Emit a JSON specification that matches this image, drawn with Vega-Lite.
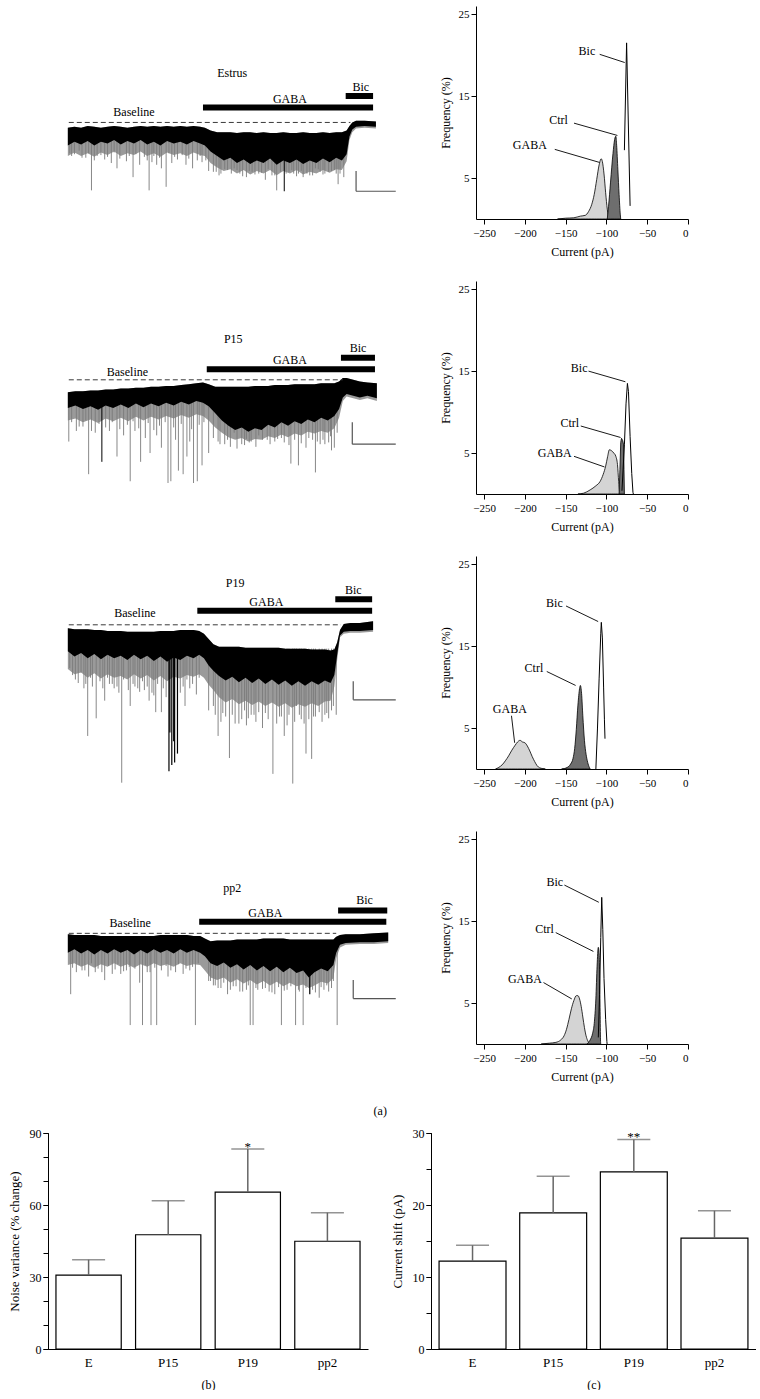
{
"$schema": "https://vega.github.io/schema/vega-lite/v6.json",
"background": "white",
"padding": {"left": 8, "top": 6, "right": 0, "bottom": 0},
"config": {
 "view": {"stroke": null},
 "font": "Liberation Serif",
 "axis": {"labelFont": "Liberation Serif", "titleFont": "Liberation Serif", "labelFontSize": 11, "titleFontSize": 12, "titleFontWeight": "normal", "labelColor": "black", "titleColor": "black", "domainColor": "black", "tickColor": "black", "grid": false, "tickSize": 5, "labelOverlap": false},
 "text": {"font": "Liberation Serif", "fontSize": 12, "color": "black"}
},
"datasets": {
 "band1": [{"t":71,"hi":118,"lo":138,"lo2":150},{"t":78,"hi":117,"lo":134,"lo2":146},{"t":85,"hi":118,"lo":137,"lo2":150},{"t":92,"hi":116,"lo":133,"lo2":147},{"t":99,"hi":117,"lo":138,"lo2":151},{"t":106,"hi":118,"lo":134,"lo2":146},{"t":113,"hi":117,"lo":136,"lo2":149},{"t":120,"hi":116,"lo":132,"lo2":145},{"t":127,"hi":117,"lo":137,"lo2":150},{"t":134,"hi":118,"lo":133,"lo2":147},{"t":141,"hi":117,"lo":136,"lo2":149},{"t":148,"hi":116,"lo":132,"lo2":145},{"t":155,"hi":117,"lo":137,"lo2":150},{"t":162,"hi":116,"lo":134,"lo2":147},{"t":169,"hi":117,"lo":138,"lo2":151},{"t":176,"hi":116,"lo":133,"lo2":146},{"t":183,"hi":117,"lo":136,"lo2":149},{"t":190,"hi":116,"lo":134,"lo2":147},{"t":197,"hi":117,"lo":137,"lo2":150},{"t":204,"hi":116,"lo":133,"lo2":146},{"t":211,"hi":117,"lo":136,"lo2":149},{"t":216,"hi":118,"lo":138,"lo2":150},{"t":222,"hi":121,"lo":145,"lo2":158},{"t":229,"hi":123,"lo":150,"lo2":163},{"t":236,"hi":123,"lo":155,"lo2":167},{"t":243,"hi":123,"lo":152,"lo2":165},{"t":250,"hi":124,"lo":158,"lo2":170},{"t":257,"hi":123,"lo":154,"lo2":166},{"t":264,"hi":123,"lo":159,"lo2":171},{"t":271,"hi":124,"lo":155,"lo2":167},{"t":278,"hi":123,"lo":158,"lo2":170},{"t":285,"hi":124,"lo":153,"lo2":166},{"t":292,"hi":124,"lo":160,"lo2":172},{"t":299,"hi":123,"lo":155,"lo2":167},{"t":306,"hi":124,"lo":158,"lo2":170},{"t":313,"hi":124,"lo":154,"lo2":166},{"t":320,"hi":123,"lo":159,"lo2":171},{"t":327,"hi":124,"lo":155,"lo2":168},{"t":334,"hi":124,"lo":158,"lo2":170},{"t":341,"hi":123,"lo":153,"lo2":166},{"t":348,"hi":124,"lo":157,"lo2":169},{"t":355,"hi":123,"lo":152,"lo2":165},{"t":361,"hi":123,"lo":155,"lo2":166},{"t":366,"hi":121,"lo":148,"lo2":156},{"t":369,"hi":116,"lo":128,"lo2":132},{"t":372,"hi":112,"lo":120,"lo2":123},{"t":376,"hi":110,"lo":117,"lo2":119},{"t":385,"hi":110,"lo":116,"lo2":118},{"t":397,"hi":111,"lo":117,"lo2":119}],
 "spk1": [{"t":96,"d":189},{"t":157,"d":189},{"t":175,"d":185},{"t":292,"d":189},{"t":357,"d":182},{"t":73,"d":147},{"t":83,"d":144},{"t":110,"d":154},{"t":123,"d":164},{"t":140,"d":174},{"t":147,"d":160},{"t":160,"d":157},{"t":170,"d":164},{"t":187,"d":154},{"t":203,"d":164},{"t":213,"d":157},{"t":220,"d":167},{"t":233,"d":170},{"t":247,"d":164},{"t":260,"d":174},{"t":273,"d":170},{"t":280,"d":177},{"t":310,"d":170},{"t":320,"d":174},{"t":333,"d":164},{"t":343,"d":170},{"t":350,"d":167},{"t":363,"d":174},{"t":90,"d":152},{"t":102,"d":150},{"t":117,"d":158},{"t":133,"d":156},{"t":152,"d":151},{"t":165,"d":160},{"t":181,"d":158},{"t":196,"d":160},{"t":208,"d":155},{"t":228,"d":168},{"t":240,"d":166},{"t":253,"d":170},{"t":266,"d":168},{"t":287,"d":172},{"t":305,"d":168},{"t":315,"d":170},{"t":327,"d":172},{"t":338,"d":168},{"t":355,"d":170},
  {"t":75,"d":150},{"t":78,"d":148},{"t":86,"d":152},{"t":93,"d":147},{"t":99,"d":155},{"t":106,"d":149},{"t":113,"d":151},{"t":120,"d":146},{"t":126,"d":153},{"t":136,"d":150},{"t":143,"d":148},{"t":155,"d":155},{"t":162,"d":150},{"t":168,"d":152},{"t":178,"d":147},{"t":184,"d":151},{"t":192,"d":149},{"t":199,"d":153},{"t":211,"d":150},{"t":217,"d":155},{"t":225,"d":168},{"t":231,"d":172},{"t":237,"d":165},{"t":244,"d":170},{"t":250,"d":166},{"t":256,"d":173},{"t":263,"d":167},{"t":269,"d":171},{"t":276,"d":169},{"t":283,"d":165},{"t":290,"d":172},{"t":296,"d":168},{"t":302,"d":170},{"t":308,"d":166},{"t":313,"d":173},{"t":318,"d":167},{"t":324,"d":170},{"t":330,"d":172},{"t":336,"d":165},{"t":341,"d":171},{"t":347,"d":168},{"t":353,"d":166},{"t":359,"d":170}],
 "spk1b": [{"t":300,"d":190}],
 "band2": [{"t":71,"hi":106,"lo":124,"lo2":138},{"t":79,"hi":105,"lo":121,"lo2":136},{"t":87,"hi":105,"lo":125,"lo2":140},{"t":95,"hi":104,"lo":122,"lo2":137},{"t":103,"hi":104,"lo":126,"lo2":141},{"t":111,"hi":103,"lo":121,"lo2":136},{"t":119,"hi":103,"lo":124,"lo2":139},{"t":127,"hi":102,"lo":120,"lo2":135},{"t":135,"hi":102,"lo":124,"lo2":139},{"t":143,"hi":101,"lo":119,"lo2":134},{"t":151,"hi":101,"lo":123,"lo2":138},{"t":159,"hi":100,"lo":119,"lo2":134},{"t":167,"hi":100,"lo":122,"lo2":137},{"t":175,"hi":99,"lo":118,"lo2":133},{"t":183,"hi":99,"lo":121,"lo2":136},{"t":191,"hi":98,"lo":117,"lo2":132},{"t":199,"hi":97,"lo":120,"lo2":135},{"t":207,"hi":96,"lo":116,"lo2":131},{"t":214,"hi":95,"lo":118,"lo2":133},{"t":220,"hi":97,"lo":122,"lo2":138},{"t":227,"hi":100,"lo":130,"lo2":146},{"t":234,"hi":100,"lo":138,"lo2":152},{"t":241,"hi":100,"lo":144,"lo2":157},{"t":248,"hi":100,"lo":149,"lo2":160},{"t":255,"hi":100,"lo":146,"lo2":158},{"t":262,"hi":100,"lo":151,"lo2":162},{"t":269,"hi":99,"lo":147,"lo2":159},{"t":276,"hi":99,"lo":149,"lo2":160},{"t":283,"hi":99,"lo":143,"lo2":156},{"t":290,"hi":98,"lo":146,"lo2":158},{"t":297,"hi":98,"lo":140,"lo2":154},{"t":304,"hi":98,"lo":144,"lo2":157},{"t":311,"hi":97,"lo":139,"lo2":153},{"t":318,"hi":97,"lo":142,"lo2":155},{"t":325,"hi":97,"lo":137,"lo2":151},{"t":332,"hi":97,"lo":140,"lo2":153},{"t":339,"hi":96,"lo":135,"lo2":150},{"t":346,"hi":96,"lo":138,"lo2":152},{"t":353,"hi":96,"lo":133,"lo2":147},{"t":358,"hi":94,"lo":125,"lo2":135},{"t":362,"hi":90,"lo":112,"lo2":116},{"t":366,"hi":90,"lo":108,"lo2":111},{"t":373,"hi":92,"lo":110,"lo2":113},{"t":380,"hi":94,"lo":112,"lo2":115},{"t":388,"hi":95,"lo":110,"lo2":113},{"t":398,"hi":96,"lo":113,"lo2":116}],
 "spk2": [{"t":93,"d":199},{"t":137,"d":207},{"t":158,"d":175},{"t":177,"d":209},{"t":180,"d":207},{"t":188,"d":195},{"t":193,"d":199},{"t":204,"d":209},{"t":208,"d":207},{"t":213,"d":189},{"t":220,"d":175},{"t":232,"d":165},{"t":307,"d":187},{"t":315,"d":189},{"t":333,"d":197},{"t":350,"d":172},{"t":72,"d":162},{"t":123,"d":179},{"t":148,"d":185},{"t":170,"d":169},{"t":197,"d":179},{"t":247,"d":152},{"t":260,"d":159},{"t":273,"d":155},{"t":293,"d":159},{"t":323,"d":169},{"t":343,"d":165},{"t":353,"d":169},{"t":80,"d":150},{"t":87,"d":145},{"t":100,"d":152},{"t":115,"d":150},{"t":130,"d":155},{"t":142,"d":150},{"t":153,"d":158},{"t":165,"d":155},{"t":185,"d":160},{"t":200,"d":162},{"t":240,"d":160},{"t":255,"d":165},{"t":265,"d":162},{"t":282,"d":160},{"t":300,"d":163},{"t":330,"d":160},{"t":338,"d":165},{"t":347,"d":163},
  {"t":75,"d":140},{"t":83,"d":145},{"t":90,"d":138},{"t":96,"d":150},{"t":104,"d":142},{"t":111,"d":146},{"t":118,"d":140},{"t":126,"d":148},{"t":134,"d":143},{"t":140,"d":139},{"t":146,"d":147},{"t":156,"d":141},{"t":162,"d":149},{"t":168,"d":144},{"t":174,"d":140},{"t":183,"d":146},{"t":191,"d":142},{"t":202,"d":148},{"t":210,"d":143},{"t":215,"d":140},{"t":225,"d":158},{"t":230,"d":162},{"t":237,"d":165},{"t":243,"d":168},{"t":250,"d":170},{"t":258,"d":166},{"t":263,"d":163},{"t":270,"d":168},{"t":277,"d":160},{"t":285,"d":165},{"t":290,"d":162},{"t":297,"d":158},{"t":305,"d":166},{"t":311,"d":160},{"t":318,"d":164},{"t":326,"d":158},{"t":335,"d":162},{"t":341,"d":160},{"t":349,"d":156},{"t":356,"d":152}],
 "spk2b": [{"t":107,"d":185}],
 "band3": [{"t":71,"hi":62,"lo":88,"lo2":108},{"t":78,"hi":63,"lo":94,"lo2":114},{"t":85,"hi":63,"lo":90,"lo2":112},{"t":92,"hi":63,"lo":96,"lo2":118},{"t":99,"hi":64,"lo":91,"lo2":113},{"t":106,"hi":64,"lo":97,"lo2":119},{"t":113,"hi":65,"lo":92,"lo2":114},{"t":120,"hi":65,"lo":96,"lo2":118},{"t":127,"hi":65,"lo":93,"lo2":116},{"t":134,"hi":66,"lo":98,"lo2":120},{"t":141,"hi":66,"lo":92,"lo2":114},{"t":148,"hi":66,"lo":97,"lo2":119},{"t":155,"hi":66,"lo":93,"lo2":115},{"t":162,"hi":66,"lo":99,"lo2":121},{"t":169,"hi":65,"lo":94,"lo2":116},{"t":176,"hi":65,"lo":100,"lo2":122},{"t":183,"hi":65,"lo":95,"lo2":117},{"t":190,"hi":64,"lo":98,"lo2":119},{"t":197,"hi":64,"lo":93,"lo2":115},{"t":204,"hi":64,"lo":96,"lo2":117},{"t":210,"hi":65,"lo":92,"lo2":114},{"t":215,"hi":68,"lo":96,"lo2":118},{"t":220,"hi":74,"lo":104,"lo2":126},{"t":225,"hi":80,"lo":110,"lo2":132},{"t":231,"hi":83,"lo":116,"lo2":140},{"t":238,"hi":83,"lo":121,"lo2":146},{"t":245,"hi":83,"lo":117,"lo2":142},{"t":252,"hi":83,"lo":123,"lo2":148},{"t":259,"hi":84,"lo":118,"lo2":144},{"t":266,"hi":84,"lo":124,"lo2":149},{"t":273,"hi":84,"lo":119,"lo2":145},{"t":280,"hi":84,"lo":125,"lo2":150},{"t":287,"hi":84,"lo":120,"lo2":146},{"t":294,"hi":84,"lo":126,"lo2":151},{"t":301,"hi":85,"lo":121,"lo2":147},{"t":308,"hi":85,"lo":127,"lo2":152},{"t":315,"hi":85,"lo":122,"lo2":148},{"t":322,"hi":85,"lo":127,"lo2":151},{"t":329,"hi":86,"lo":122,"lo2":147},{"t":336,"hi":86,"lo":126,"lo2":150},{"t":343,"hi":86,"lo":121,"lo2":145},{"t":349,"hi":87,"lo":124,"lo2":144},{"t":353,"hi":86,"lo":115,"lo2":128},{"t":356,"hi":78,"lo":92,"lo2":98},{"t":359,"hi":64,"lo":70,"lo2":72},{"t":363,"hi":57,"lo":66,"lo2":68},{"t":370,"hi":56,"lo":65,"lo2":67},{"t":380,"hi":56,"lo":65,"lo2":67},{"t":394,"hi":54,"lo":64,"lo2":66}],
 "spk3": [{"t":92,"d":184},{"t":101,"d":164},{"t":128,"d":237},{"t":164,"d":157},{"t":230,"d":184},{"t":242,"d":209},{"t":252,"d":170},{"t":262,"d":164},{"t":288,"d":227},{"t":300,"d":184},{"t":309,"d":238},{"t":323,"d":204},{"t":329,"d":210},{"t":347,"d":164},{"t":355,"d":160},{"t":73,"d":107},{"t":82,"d":124},{"t":110,"d":144},{"t":120,"d":130},{"t":137,"d":150},{"t":147,"d":134},{"t":157,"d":144},{"t":170,"d":157},{"t":195,"d":150},{"t":207,"d":137},{"t":273,"d":157},{"t":313,"d":150},{"t":337,"d":157},{"t":88,"d":130},{"t":97,"d":128},{"t":115,"d":125},{"t":125,"d":135},{"t":142,"d":128},{"t":152,"d":132},{"t":162,"d":138},{"t":175,"d":140},{"t":190,"d":135},{"t":200,"d":130},{"t":225,"d":150},{"t":235,"d":158},{"t":245,"d":160},{"t":258,"d":155},{"t":268,"d":160},{"t":280,"d":158},{"t":295,"d":162},{"t":305,"d":160},{"t":318,"d":165},{"t":333,"d":162},{"t":343,"d":160},{"t":350,"d":155},
  {"t":76,"d":115},{"t":79,"d":120},{"t":85,"d":112},{"t":90,"d":125},{"t":95,"d":118},{"t":105,"d":122},{"t":108,"d":130},{"t":113,"d":118},{"t":118,"d":125},{"t":123,"d":128},{"t":130,"d":120},{"t":135,"d":132},{"t":140,"d":125},{"t":145,"d":130},{"t":150,"d":122},{"t":155,"d":128},{"t":160,"d":135},{"t":166,"d":125},{"t":172,"d":130},{"t":193,"d":128},{"t":197,"d":120},{"t":203,"d":125},{"t":210,"d":118},{"t":220,"d":155},{"t":227,"d":160},{"t":233,"d":168},{"t":238,"d":162},{"t":248,"d":170},{"t":255,"d":165},{"t":260,"d":172},{"t":265,"d":160},{"t":270,"d":168},{"t":277,"d":175},{"t":283,"d":165},{"t":292,"d":170},{"t":297,"d":162},{"t":303,"d":172},{"t":311,"d":168},{"t":316,"d":160},{"t":321,"d":170},{"t":326,"d":165},{"t":331,"d":162},{"t":340,"d":168},{"t":345,"d":158},{"t":352,"d":150}],
 "spk3b": [{"t":178,"d":224},{"t":181,"d":217},{"t":184,"d":214},{"t":187,"d":204},{"t":179,"d":180},{"t":183,"d":190}],
 "band4": [{"t":71,"hi":97,"lo":118,"lo2":132},{"t":78,"hi":98,"lo":114,"lo2":130},{"t":85,"hi":98,"lo":119,"lo2":134},{"t":92,"hi":98,"lo":115,"lo2":131},{"t":99,"hi":98,"lo":120,"lo2":135},{"t":106,"hi":99,"lo":115,"lo2":131},{"t":113,"hi":99,"lo":119,"lo2":134},{"t":120,"hi":99,"lo":114,"lo2":130},{"t":127,"hi":99,"lo":118,"lo2":134},{"t":134,"hi":99,"lo":115,"lo2":131},{"t":141,"hi":99,"lo":120,"lo2":135},{"t":148,"hi":99,"lo":115,"lo2":131},{"t":155,"hi":99,"lo":119,"lo2":134},{"t":162,"hi":99,"lo":114,"lo2":130},{"t":169,"hi":98,"lo":118,"lo2":133},{"t":176,"hi":98,"lo":115,"lo2":131},{"t":183,"hi":98,"lo":119,"lo2":134},{"t":190,"hi":98,"lo":114,"lo2":130},{"t":197,"hi":98,"lo":118,"lo2":133},{"t":204,"hi":99,"lo":115,"lo2":131},{"t":211,"hi":99,"lo":118,"lo2":132},{"t":216,"hi":102,"lo":122,"lo2":138},{"t":222,"hi":105,"lo":130,"lo2":146},{"t":229,"hi":104,"lo":133,"lo2":149},{"t":236,"hi":104,"lo":129,"lo2":146},{"t":243,"hi":104,"lo":135,"lo2":152},{"t":250,"hi":103,"lo":131,"lo2":148},{"t":257,"hi":103,"lo":137,"lo2":153},{"t":264,"hi":103,"lo":132,"lo2":149},{"t":271,"hi":103,"lo":138,"lo2":154},{"t":278,"hi":102,"lo":133,"lo2":150},{"t":285,"hi":102,"lo":139,"lo2":155},{"t":292,"hi":102,"lo":134,"lo2":151},{"t":299,"hi":102,"lo":140,"lo2":156},{"t":306,"hi":103,"lo":135,"lo2":152},{"t":313,"hi":103,"lo":141,"lo2":156},{"t":320,"hi":103,"lo":138,"lo2":154},{"t":326,"hi":103,"lo":146,"lo2":158},{"t":332,"hi":103,"lo":140,"lo2":155},{"t":339,"hi":103,"lo":136,"lo2":151},{"t":346,"hi":103,"lo":139,"lo2":153},{"t":352,"hi":103,"lo":132,"lo2":147},{"t":355,"hi":100,"lo":118,"lo2":124},{"t":359,"hi":98,"lo":109,"lo2":112},{"t":365,"hi":97,"lo":107,"lo2":109},{"t":380,"hi":97,"lo":106,"lo2":108},{"t":395,"hi":96,"lo":106,"lo2":108},{"t":410,"hi":95,"lo":105,"lo2":107}],
 "spk4": [{"t":74,"d":165},{"t":137,"d":200},{"t":150,"d":200},{"t":159,"d":200},{"t":165,"d":200},{"t":206,"d":200},{"t":264,"d":200},{"t":267,"d":200},{"t":297,"d":200},{"t":312,"d":200},{"t":320,"d":200},{"t":356,"d":200},{"t":93,"d":145},{"t":110,"d":149},{"t":127,"d":142},{"t":147,"d":152},{"t":177,"d":145},{"t":193,"d":142},{"t":227,"d":155},{"t":240,"d":165},{"t":253,"d":162},{"t":277,"d":159},{"t":290,"d":165},{"t":337,"d":169},{"t":347,"d":162},{"t":80,"d":140},{"t":86,"d":138},{"t":100,"d":140},{"t":118,"d":142},{"t":133,"d":138},{"t":155,"d":140},{"t":170,"d":138},{"t":185,"d":140},{"t":200,"d":138},{"t":222,"d":150},{"t":233,"d":158},{"t":246,"d":156},{"t":260,"d":160},{"t":270,"d":158},{"t":284,"d":162},{"t":303,"d":160},{"t":316,"d":162},{"t":330,"d":160},{"t":342,"d":160},{"t":350,"d":158},
  {"t":76,"d":135},{"t":83,"d":132},{"t":89,"d":138},{"t":96,"d":130},{"t":103,"d":136},{"t":107,"d":140},{"t":114,"d":133},{"t":121,"d":137},{"t":124,"d":131},{"t":130,"d":139},{"t":136,"d":134},{"t":142,"d":136},{"t":153,"d":132},{"t":158,"d":140},{"t":163,"d":135},{"t":175,"d":133},{"t":180,"d":138},{"t":188,"d":131},{"t":196,"d":136},{"t":203,"d":134},{"t":209,"d":130},{"t":220,"d":150},{"t":225,"d":155},{"t":230,"d":158},{"t":236,"d":152},{"t":243,"d":160},{"t":249,"d":156},{"t":256,"d":162},{"t":262,"d":155},{"t":272,"d":160},{"t":280,"d":158},{"t":287,"d":163},{"t":294,"d":157},{"t":300,"d":161},{"t":307,"d":156},{"t":315,"d":160},{"t":323,"d":158},{"t":333,"d":163},{"t":339,"d":157},{"t":345,"d":155},{"t":352,"d":150}],
 "spk4b": [{"t":327,"d":165}],
 "h1g": [{"current":-160,"freq":0},{"current":-150,"freq":0.1},{"current":-140,"freq":0.15},{"current":-132,"freq":0.35},{"current":-126,"freq":0.45},{"current":-122,"freq":0.9},{"current":-118,"freq":1.8},{"current":-115,"freq":3.0},{"current":-112,"freq":4.8},{"current":-109,"freq":6.6},{"current":-106.5,"freq":7.35},{"current":-105,"freq":7.0},{"current":-103,"freq":5.5},{"current":-101,"freq":3.2},{"current":-99,"freq":1.2},{"current":-97,"freq":0}],
 "h1c": [{"current":-99,"freq":0},{"current":-97.5,"freq":1.5},{"current":-95,"freq":4.5},{"current":-92,"freq":8.0},{"current":-90,"freq":9.7},{"current":-88.5,"freq":10.1},{"current":-87.5,"freq":9.0},{"current":-86,"freq":6.0},{"current":-84.5,"freq":3.0},{"current":-83,"freq":0.5},{"current":-82.5,"freq":0}],
 "h1b": [{"current":-78,"freq":8.4},{"current":-75.3,"freq":21.5},{"current":-71,"freq":1.6}],
 "h1a": [{"label":"Bic","tc":-124,"tf":20.5,"c1":-108.3,"f1":20.1,"c2":-77.6,"f2":19.1},{"label":"Ctrl","tc":-158.7,"tf":12.1,"c1":-139.8,"f1":11.7,"c2":-86.6,"f2":10.2},{"label":"GABA","tc":-194,"tf":9.0,"c1":-163.4,"f1":8.5,"c2":-108.3,"f2":6.9}],
 "h2g": [{"current":-135,"freq":0},{"current":-128,"freq":0.1},{"current":-120,"freq":0.5},{"current":-113,"freq":1.0},{"current":-108,"freq":1.5},{"current":-104,"freq":2.4},{"current":-101,"freq":3.4},{"current":-98.5,"freq":4.6},{"current":-96.5,"freq":5.4},{"current":-94,"freq":5.3},{"current":-91,"freq":5.0},{"current":-88.5,"freq":4.6},{"current":-86.5,"freq":3.6},{"current":-85,"freq":1.5},{"current":-84,"freq":0.3},{"current":-83.5,"freq":0}],
 "h2c": [{"current":-84.5,"freq":0},{"current":-83.5,"freq":3},{"current":-82.5,"freq":6.3},{"current":-81.5,"freq":6.8},{"current":-80,"freq":6.5},{"current":-79,"freq":6.0},{"current":-78.5,"freq":3},{"current":-78,"freq":0}],
 "h2b": [{"current":-81,"freq":0.4},{"current":-78,"freq":6},{"current":-76,"freq":11},{"current":-74.3,"freq":13.5},{"current":-73,"freq":12.5},{"current":-71,"freq":7},{"current":-69,"freq":2.5},{"current":-67.5,"freq":0.2},{"current":-67,"freq":0}],
 "h2a": [{"label":"Bic","tc":-133.5,"tf":15.4,"c1":-122,"f1":15.0,"c2":-76.8,"f2":13.7},{"label":"Ctrl","tc":-144.9,"tf":8.7,"c1":-131.5,"f1":8.3,"c2":-82.7,"f2":6.9},{"label":"GABA","tc":-163.4,"tf":5.0,"c1":-139.8,"f1":4.6,"c2":-102.4,"f2":3.3}],
 "h3g": [{"current":-236,"freq":0},{"current":-232,"freq":0.2},{"current":-228,"freq":0.5},{"current":-224,"freq":1.0},{"current":-220,"freq":1.6},{"current":-216,"freq":2.3},{"current":-212,"freq":2.9},{"current":-209,"freq":3.3},{"current":-206,"freq":3.5},{"current":-203,"freq":3.3},{"current":-200,"freq":3.2},{"current":-197,"freq":2.8},{"current":-194,"freq":2.2},{"current":-191,"freq":1.5},{"current":-188,"freq":0.9},{"current":-185,"freq":0.4},{"current":-182,"freq":0.15},{"current":-178,"freq":0.05},{"current":-175,"freq":0}],
 "h3c": [{"current":-155,"freq":0},{"current":-148,"freq":0.2},{"current":-144,"freq":0.6},{"current":-141,"freq":1.3},{"current":-139,"freq":2.5},{"current":-137,"freq":4.8},{"current":-135,"freq":7.8},{"current":-133,"freq":9.8},{"current":-132,"freq":10.2},{"current":-130.5,"freq":9.2},{"current":-129,"freq":6.5},{"current":-127,"freq":3.5},{"current":-125,"freq":1.8},{"current":-123,"freq":0.8},{"current":-121,"freq":0.2},{"current":-120,"freq":0}],
 "h3b": [{"current":-113,"freq":0},{"current":-111,"freq":5},{"current":-109,"freq":11},{"current":-107,"freq":16.5},{"current":-106.3,"freq":17.9},{"current":-105,"freq":16},{"current":-103.5,"freq":10},{"current":-102.5,"freq":6},{"current":-101.8,"freq":3.7}],
 "h3a": [{"label":"Bic","tc":-163.8,"tf":20.3,"c1":-149.6,"f1":19.9,"c2":-110.2,"f2":18.0},{"label":"Ctrl","tc":-189,"tf":12.3,"c1":-173.2,"f1":11.9,"c2":-137.8,"f2":10.2},{"label":"GABA","tc":-218.5,"tf":7.3,"c1":-216.5,"f1":6.5,"c2":-212.6,"f2":3.2}],
 "h4g": [{"current":-180,"freq":0},{"current":-170,"freq":0.1},{"current":-162,"freq":0.2},{"current":-156,"freq":0.5},{"current":-152,"freq":1.0},{"current":-149,"freq":1.8},{"current":-146,"freq":3.0},{"current":-143,"freq":4.3},{"current":-140,"freq":5.3},{"current":-137,"freq":5.9},{"current":-135,"freq":5.9},{"current":-133,"freq":5.5},{"current":-131,"freq":4.6},{"current":-129,"freq":3.3},{"current":-127,"freq":2.0},{"current":-125,"freq":1.0},{"current":-123,"freq":0.4},{"current":-121,"freq":0.1},{"current":-120,"freq":0}],
 "h4c": [{"current":-124,"freq":0},{"current":-120,"freq":0.5},{"current":-117,"freq":1.3},{"current":-115,"freq":2.5},{"current":-113,"freq":5.5},{"current":-111.5,"freq":9.5},{"current":-110,"freq":11.8},{"current":-109,"freq":11.0},{"current":-108.3,"freq":8},{"current":-107.8,"freq":4},{"current":-107.3,"freq":0.5},{"current":-107,"freq":0}],
 "h4b": [{"current":-110,"freq":0.8},{"current":-108.5,"freq":6},{"current":-107,"freq":13},{"current":-105.8,"freq":17.9},{"current":-104.5,"freq":14},{"current":-103,"freq":8},{"current":-101,"freq":3},{"current":-99.5,"freq":0.3},{"current":-99.2,"freq":0}],
 "h4a": [{"label":"Bic","tc":-163.4,"tf":19.8,"c1":-151.6,"f1":19.4,"c2":-109.4,"f2":17.3},{"label":"Ctrl","tc":-176,"tf":14.0,"c1":-162.2,"f1":13.6,"c2":-116,"f2":11.3},{"label":"GABA","tc":-200,"tf":7.9,"c1":-177.2,"f1":7.5,"c2":-142.5,"f2":5.5}],
 "barb": [{"group": "E", "mean": 30.8, "upper": 37.2, "sig": ""}, {"group": "P15", "mean": 47.6, "upper": 61.8, "sig": ""}, {"group": "P19", "mean": 65.4, "upper": 83.3, "sig": "*"}, {"group": "pp2", "mean": 44.9, "upper": 56.8, "sig": ""}],
 "barc": [{"group": "E", "mean": 12.2, "upper": 14.4, "sig": ""}, {"group": "P15", "mean": 18.9, "upper": 24.0, "sig": ""}, {"group": "P19", "mean": 24.6, "upper": 29.1, "sig": "**"}, {"group": "pp2", "mean": 15.4, "upper": 19.2, "sig": ""}]
},
"spacing": 10,
"vconcat": [
 {
  "spacing": 24,
  "title": {"text": "(a)", "orient": "bottom", "anchor": "middle", "dx": 12, "offset": 24, "fontSize": 12, "font": "Liberation Serif", "fontWeight": "normal", "color": "black"},
  "vconcat": [
   {"spacing": 13, "hconcat": [
    {"width": 378, "height": 247, "layer": [
     {"data": {"name": "band1"}, "mark": {"type": "area", "color": "#9a9a9a"}, "encoding": {"x": {"field": "t", "type": "quantitative", "scale": {"domain": [50, 428]}, "axis": null}, "y": {"field": "hi", "type": "quantitative", "scale": {"domain": [-4, 243], "reverse": true}, "axis": null}, "y2": {"field": "lo2"}}},
     {"data": {"name": "spk1"}, "mark": {"type": "rule", "color": "#7a7a7a", "strokeWidth": 0.9}, "encoding": {"x": {"field": "t", "type": "quantitative"}, "y": {"field": "d", "type": "quantitative"}, "y2": {"datum": 130}}},
     {"data": {"name": "spk1b"}, "mark": {"type": "rule", "color": "black", "strokeWidth": 1}, "encoding": {"x": {"field": "t", "type": "quantitative"}, "y": {"field": "d", "type": "quantitative"}, "y2": {"datum": 130}}},
     {"data": {"name": "band1"}, "mark": {"type": "area", "color": "black"}, "encoding": {"x": {"field": "t", "type": "quantitative"}, "y": {"field": "hi", "type": "quantitative"}, "y2": {"field": "lo"}}},
     {"data": {"values": [{"t": 72, "t2": 370, "v": 112}]}, "mark": {"type": "rule", "strokeDash": [5, 3], "color": "#3a3a3a", "strokeWidth": 1}, "encoding": {"x": {"field": "t", "type": "quantitative"}, "x2": {"field": "t2"}, "y": {"field": "v", "type": "quantitative"}}},
     {"data": {"values": [{"t": 214, "t2": 394, "v": 95}, {"t": 365, "t2": 394, "v": 82}]}, "mark": {"type": "rule", "color": "black", "strokeWidth": 6}, "encoding": {"x": {"field": "t", "type": "quantitative"}, "x2": {"field": "t2"}, "y": {"field": "v", "type": "quantitative"}}},
     {"data": {"values": [{"label": "Estrus", "t": 245, "v": 56}, {"label": "Baseline", "t": 141, "v": 100}, {"label": "GABA", "t": 306, "v": 85}, {"label": "Bic", "t": 381, "v": 72}]}, "mark": {"type": "text", "fontSize": 12, "baseline": "middle"}, "encoding": {"x": {"field": "t", "type": "quantitative"}, "y": {"field": "v", "type": "quantitative"}, "text": {"field": "label"}}},
     {"data": {"values": [{"t": 376, "t2": 376, "v": 167, "v2": 190}, {"t": 376, "t2": 418, "v": 190, "v2": 190}]}, "mark": {"type": "rule", "color": "#555555", "strokeWidth": 1.2}, "encoding": {"x": {"field": "t", "type": "quantitative"}, "x2": {"field": "t2"}, "y": {"field": "v", "type": "quantitative"}, "y2": {"field": "v2"}}}
    ]},
    {"width": 212, "height": 213, "layer": [
     {"data": {"name": "h1g"}, "mark": {"type": "area", "fill": "#d4d4d4", "stroke": "black", "strokeWidth": 0.8, "interpolate": "monotone"}, "encoding": {"x": {"field": "current", "type": "quantitative", "scale": {"domain": [-250, 0]}, "axis": {"values": [-250, -200, -150, -100, -50, 0], "title": "Current (pA)", "titlePadding": 8, "labelPadding": 3}}, "y": {"field": "freq", "type": "quantitative", "scale": {"domain": [0, 25]}, "axis": {"values": [5, 15, 25], "title": "Frequency (%)", "titlePadding": 6}}}},
     {"data": {"name": "h1c"}, "mark": {"type": "area", "fill": "#6e6e6e", "stroke": "black", "strokeWidth": 0.8, "interpolate": "monotone"}, "encoding": {"x": {"field": "current", "type": "quantitative"}, "y": {"field": "freq", "type": "quantitative"}}},
     {"data": {"name": "h1b"}, "mark": {"type": "line", "color": "black", "strokeWidth": 1}, "encoding": {"x": {"field": "current", "type": "quantitative"}, "y": {"field": "freq", "type": "quantitative"}}},
     {"data": {"name": "h1a"}, "mark": {"type": "rule", "color": "black", "strokeWidth": 0.9}, "encoding": {"x": {"field": "c1", "type": "quantitative"}, "x2": {"field": "c2"}, "y": {"field": "f1", "type": "quantitative"}, "y2": {"field": "f2"}}},
     {"data": {"name": "h1a"}, "mark": {"type": "text", "fontSize": 12, "baseline": "middle"}, "encoding": {"x": {"field": "tc", "type": "quantitative"}, "y": {"field": "tf", "type": "quantitative"}, "text": {"field": "label"}}}
    ]}
   ]},
   {"spacing": 13, "hconcat": [
    {"width": 378, "height": 247, "layer": [
     {"data": {"name": "band2"}, "mark": {"type": "area", "color": "#9a9a9a"}, "encoding": {"x": {"field": "t", "type": "quantitative", "scale": {"domain": [50, 428]}, "axis": null}, "y": {"field": "hi", "type": "quantitative", "scale": {"domain": [-4, 243], "reverse": true}, "axis": null}, "y2": {"field": "lo2"}}},
     {"data": {"name": "spk2"}, "mark": {"type": "rule", "color": "#7a7a7a", "strokeWidth": 0.9}, "encoding": {"x": {"field": "t", "type": "quantitative"}, "y": {"field": "d", "type": "quantitative"}, "y2": {"datum": 115}}},
     {"data": {"name": "spk2b"}, "mark": {"type": "rule", "color": "black", "strokeWidth": 1}, "encoding": {"x": {"field": "t", "type": "quantitative"}, "y": {"field": "d", "type": "quantitative"}, "y2": {"datum": 115}}},
     {"data": {"name": "band2"}, "mark": {"type": "area", "color": "black"}, "encoding": {"x": {"field": "t", "type": "quantitative"}, "y": {"field": "hi", "type": "quantitative"}, "y2": {"field": "lo"}}},
     {"data": {"values": [{"t": 72, "t2": 362, "v": 92}]}, "mark": {"type": "rule", "strokeDash": [5, 3], "color": "#3a3a3a", "strokeWidth": 1}, "encoding": {"x": {"field": "t", "type": "quantitative"}, "x2": {"field": "t2"}, "y": {"field": "v", "type": "quantitative"}}},
     {"data": {"values": [{"t": 218, "t2": 396, "v": 80}, {"t": 360, "t2": 396, "v": 67}]}, "mark": {"type": "rule", "color": "black", "strokeWidth": 6}, "encoding": {"x": {"field": "t", "type": "quantitative"}, "x2": {"field": "t2"}, "y": {"field": "v", "type": "quantitative"}}},
     {"data": {"values": [{"label": "P15", "t": 246, "v": 46}, {"label": "Baseline", "t": 134, "v": 83}, {"label": "GABA", "t": 306, "v": 69}, {"label": "Bic", "t": 378, "v": 56}]}, "mark": {"type": "text", "fontSize": 12, "baseline": "middle"}, "encoding": {"x": {"field": "t", "type": "quantitative"}, "y": {"field": "v", "type": "quantitative"}, "text": {"field": "label"}}},
     {"data": {"values": [{"t": 372, "t2": 372, "v": 140, "v2": 165}, {"t": 372, "t2": 418, "v": 165, "v2": 165}]}, "mark": {"type": "rule", "color": "#555555", "strokeWidth": 1.2}, "encoding": {"x": {"field": "t", "type": "quantitative"}, "x2": {"field": "t2"}, "y": {"field": "v", "type": "quantitative"}, "y2": {"field": "v2"}}}
    ]},
    {"width": 212, "height": 213, "layer": [
     {"data": {"name": "h2g"}, "mark": {"type": "area", "fill": "#d4d4d4", "stroke": "black", "strokeWidth": 0.8, "interpolate": "monotone"}, "encoding": {"x": {"field": "current", "type": "quantitative", "scale": {"domain": [-250, 0]}, "axis": {"values": [-250, -200, -150, -100, -50, 0], "title": "Current (pA)", "titlePadding": 8, "labelPadding": 3}}, "y": {"field": "freq", "type": "quantitative", "scale": {"domain": [0, 25]}, "axis": {"values": [5, 15, 25], "title": "Frequency (%)", "titlePadding": 6}}}},
     {"data": {"name": "h2c"}, "mark": {"type": "area", "fill": "#6e6e6e", "stroke": "black", "strokeWidth": 0.8}, "encoding": {"x": {"field": "current", "type": "quantitative"}, "y": {"field": "freq", "type": "quantitative"}}},
     {"data": {"name": "h2b"}, "mark": {"type": "line", "color": "black", "strokeWidth": 1}, "encoding": {"x": {"field": "current", "type": "quantitative"}, "y": {"field": "freq", "type": "quantitative"}}},
     {"data": {"name": "h2a"}, "mark": {"type": "rule", "color": "black", "strokeWidth": 0.9}, "encoding": {"x": {"field": "c1", "type": "quantitative"}, "x2": {"field": "c2"}, "y": {"field": "f1", "type": "quantitative"}, "y2": {"field": "f2"}}},
     {"data": {"name": "h2a"}, "mark": {"type": "text", "fontSize": 12, "baseline": "middle"}, "encoding": {"x": {"field": "tc", "type": "quantitative"}, "y": {"field": "tf", "type": "quantitative"}, "text": {"field": "label"}}}
    ]}
   ]},
   {"spacing": 13, "hconcat": [
    {"width": 378, "height": 247, "layer": [
     {"data": {"name": "band3"}, "mark": {"type": "area", "color": "#9a9a9a"}, "encoding": {"x": {"field": "t", "type": "quantitative", "scale": {"domain": [50, 428]}, "axis": null}, "y": {"field": "hi", "type": "quantitative", "scale": {"domain": [-4, 243], "reverse": true}, "axis": null}, "y2": {"field": "lo2"}}},
     {"data": {"name": "spk3"}, "mark": {"type": "rule", "color": "#7a7a7a", "strokeWidth": 0.9}, "encoding": {"x": {"field": "t", "type": "quantitative"}, "y": {"field": "d", "type": "quantitative"}, "y2": {"datum": 85}}},
     {"data": {"name": "spk3b"}, "mark": {"type": "rule", "color": "black", "strokeWidth": 1.2}, "encoding": {"x": {"field": "t", "type": "quantitative"}, "y": {"field": "d", "type": "quantitative"}, "y2": {"datum": 85}}},
     {"data": {"name": "band3"}, "mark": {"type": "area", "color": "black"}, "encoding": {"x": {"field": "t", "type": "quantitative"}, "y": {"field": "hi", "type": "quantitative"}, "y2": {"field": "lo"}}},
     {"data": {"values": [{"t": 72, "t2": 360, "v": 58}]}, "mark": {"type": "rule", "strokeDash": [5, 3], "color": "#3a3a3a", "strokeWidth": 1}, "encoding": {"x": {"field": "t", "type": "quantitative"}, "x2": {"field": "t2"}, "y": {"field": "v", "type": "quantitative"}}},
     {"data": {"values": [{"t": 208, "t2": 393, "v": 42}, {"t": 354, "t2": 393, "v": 29}]}, "mark": {"type": "rule", "color": "black", "strokeWidth": 6}, "encoding": {"x": {"field": "t", "type": "quantitative"}, "x2": {"field": "t2"}, "y": {"field": "v", "type": "quantitative"}}},
     {"data": {"values": [{"label": "P19", "t": 248, "v": 11}, {"label": "Baseline", "t": 142, "v": 45}, {"label": "GABA", "t": 281, "v": 32}, {"label": "Bic", "t": 373, "v": 18}]}, "mark": {"type": "text", "fontSize": 12, "baseline": "middle"}, "encoding": {"x": {"field": "t", "type": "quantitative"}, "y": {"field": "v", "type": "quantitative"}, "text": {"field": "label"}}},
     {"data": {"values": [{"t": 373, "t2": 373, "v": 122, "v2": 143}, {"t": 373, "t2": 418, "v": 143, "v2": 143}]}, "mark": {"type": "rule", "color": "#555555", "strokeWidth": 1.2}, "encoding": {"x": {"field": "t", "type": "quantitative"}, "x2": {"field": "t2"}, "y": {"field": "v", "type": "quantitative"}, "y2": {"field": "v2"}}}
    ]},
    {"width": 212, "height": 213, "layer": [
     {"data": {"name": "h3g"}, "mark": {"type": "area", "fill": "#d4d4d4", "stroke": "black", "strokeWidth": 0.8, "interpolate": "monotone"}, "encoding": {"x": {"field": "current", "type": "quantitative", "scale": {"domain": [-250, 0]}, "axis": {"values": [-250, -200, -150, -100, -50, 0], "title": "Current (pA)", "titlePadding": 8, "labelPadding": 3}}, "y": {"field": "freq", "type": "quantitative", "scale": {"domain": [0, 25]}, "axis": {"values": [5, 15, 25], "title": "Frequency (%)", "titlePadding": 6}}}},
     {"data": {"name": "h3c"}, "mark": {"type": "area", "fill": "#6e6e6e", "stroke": "black", "strokeWidth": 0.8, "interpolate": "monotone"}, "encoding": {"x": {"field": "current", "type": "quantitative"}, "y": {"field": "freq", "type": "quantitative"}}},
     {"data": {"name": "h3b"}, "mark": {"type": "line", "color": "black", "strokeWidth": 1}, "encoding": {"x": {"field": "current", "type": "quantitative"}, "y": {"field": "freq", "type": "quantitative"}}},
     {"data": {"name": "h3a"}, "mark": {"type": "rule", "color": "black", "strokeWidth": 0.9}, "encoding": {"x": {"field": "c1", "type": "quantitative"}, "x2": {"field": "c2"}, "y": {"field": "f1", "type": "quantitative"}, "y2": {"field": "f2"}}},
     {"data": {"name": "h3a"}, "mark": {"type": "text", "fontSize": 12, "baseline": "middle"}, "encoding": {"x": {"field": "tc", "type": "quantitative"}, "y": {"field": "tf", "type": "quantitative"}, "text": {"field": "label"}}}
    ]}
   ]},
   {"spacing": 13, "hconcat": [
    {"width": 378, "height": 247, "layer": [
     {"data": {"name": "band4"}, "mark": {"type": "area", "color": "#9a9a9a"}, "encoding": {"x": {"field": "t", "type": "quantitative", "scale": {"domain": [50, 428]}, "axis": null}, "y": {"field": "hi", "type": "quantitative", "scale": {"domain": [-4, 243], "reverse": true}, "axis": null}, "y2": {"field": "lo2"}}},
     {"data": {"name": "spk4"}, "mark": {"type": "rule", "color": "#7a7a7a", "strokeWidth": 0.9}, "encoding": {"x": {"field": "t", "type": "quantitative"}, "y": {"field": "d", "type": "quantitative"}, "y2": {"datum": 110}}},
     {"data": {"name": "spk4b"}, "mark": {"type": "rule", "color": "black", "strokeWidth": 1.2}, "encoding": {"x": {"field": "t", "type": "quantitative"}, "y": {"field": "d", "type": "quantitative"}, "y2": {"datum": 110}}},
     {"data": {"name": "band4"}, "mark": {"type": "area", "color": "black"}, "encoding": {"x": {"field": "t", "type": "quantitative"}, "y": {"field": "hi", "type": "quantitative"}, "y2": {"field": "lo"}}},
     {"data": {"values": [{"t": 72, "t2": 355, "v": 96}]}, "mark": {"type": "rule", "strokeDash": [5, 3], "color": "#3a3a3a", "strokeWidth": 1}, "encoding": {"x": {"field": "t", "type": "quantitative"}, "x2": {"field": "t2"}, "y": {"field": "v", "type": "quantitative"}}},
     {"data": {"values": [{"t": 210, "t2": 408, "v": 83}, {"t": 357, "t2": 409, "v": 70}]}, "mark": {"type": "rule", "color": "black", "strokeWidth": 6}, "encoding": {"x": {"field": "t", "type": "quantitative"}, "x2": {"field": "t2"}, "y": {"field": "v", "type": "quantitative"}}},
     {"data": {"values": [{"label": "pp2", "t": 245, "v": 45}, {"label": "Baseline", "t": 137, "v": 84}, {"label": "GABA", "t": 280, "v": 73}, {"label": "Bic", "t": 385, "v": 58}]}, "mark": {"type": "text", "fontSize": 12, "baseline": "middle"}, "encoding": {"x": {"field": "t", "type": "quantitative"}, "y": {"field": "v", "type": "quantitative"}, "text": {"field": "label"}}},
     {"data": {"values": [{"t": 373, "t2": 373, "v": 149, "v2": 170}, {"t": 373, "t2": 418, "v": 170, "v2": 170}]}, "mark": {"type": "rule", "color": "#555555", "strokeWidth": 1.2}, "encoding": {"x": {"field": "t", "type": "quantitative"}, "x2": {"field": "t2"}, "y": {"field": "v", "type": "quantitative"}, "y2": {"field": "v2"}}}
    ]},
    {"width": 212, "height": 213, "layer": [
     {"data": {"name": "h4g"}, "mark": {"type": "area", "fill": "#d4d4d4", "stroke": "black", "strokeWidth": 0.8, "interpolate": "monotone"}, "encoding": {"x": {"field": "current", "type": "quantitative", "scale": {"domain": [-250, 0]}, "axis": {"values": [-250, -200, -150, -100, -50, 0], "title": "Current (pA)", "titlePadding": 8, "labelPadding": 3}}, "y": {"field": "freq", "type": "quantitative", "scale": {"domain": [0, 25]}, "axis": {"values": [5, 15, 25], "title": "Frequency (%)", "titlePadding": 6}}}},
     {"data": {"name": "h4c"}, "mark": {"type": "area", "fill": "#6e6e6e", "stroke": "black", "strokeWidth": 0.8, "interpolate": "monotone"}, "encoding": {"x": {"field": "current", "type": "quantitative"}, "y": {"field": "freq", "type": "quantitative"}}},
     {"data": {"name": "h4b"}, "mark": {"type": "line", "color": "black", "strokeWidth": 1}, "encoding": {"x": {"field": "current", "type": "quantitative"}, "y": {"field": "freq", "type": "quantitative"}}},
     {"data": {"name": "h4a"}, "mark": {"type": "rule", "color": "black", "strokeWidth": 0.9}, "encoding": {"x": {"field": "c1", "type": "quantitative"}, "x2": {"field": "c2"}, "y": {"field": "f1", "type": "quantitative"}, "y2": {"field": "f2"}}},
     {"data": {"name": "h4a"}, "mark": {"type": "text", "fontSize": 12, "baseline": "middle"}, "encoding": {"x": {"field": "tc", "type": "quantitative"}, "y": {"field": "tf", "type": "quantitative"}, "text": {"field": "label"}}}
    ]}
   ]}
  ]
 },
 {
  "spacing": 23,
  "hconcat": [
   {"width": 320, "height": 216,
    "data": {"name": "barb"},
    "resolve": {"axis": {"y": "independent"}},
    "encoding": {
     "x": {"field": "group", "type": "nominal", "sort": null, "scale": {"paddingInner": 0.18, "paddingOuter": 0.1}, "axis": {"title": "(b)", "labelAngle": 0, "ticks": false, "labelPadding": 7, "labelFontSize": 13, "titlePadding": 10, "titleFontSize": 12}}
    },
    "layer": [
     {"mark": {"type": "bar", "fill": "white", "stroke": "black", "strokeWidth": 1.2}, "encoding": {"y": {"field": "mean", "type": "quantitative", "scale": {"domain": [0, 90], "nice": false}, "axis": {"orient": "left", "values": [0, 30, 60, 90], "labelFontSize": 12, "title": "Noise variance (% change)", "titleFontSize": 13, "titlePadding": 8}}}},
     {"mark": {"type": "rule", "color": "#666666", "strokeWidth": 1.5}, "encoding": {"y": {"field": "mean", "type": "quantitative", "axis": {"orient": "left", "values": [0, 10, 20, 30, 40, 50, 60, 70, 80, 90], "labels": false, "title": null}}, "y2": {"field": "upper"}}},
     {"mark": {"type": "tick", "color": "#666666", "thickness": 1.5, "size": 33}, "encoding": {"y": {"field": "upper", "type": "quantitative", "axis": null}}},
     {"mark": {"type": "text", "fontSize": 13, "baseline": "alphabetic", "dy": 2, "color": "black"}, "encoding": {"y": {"field": "upper", "type": "quantitative", "axis": null}, "text": {"field": "sig"}}}
    ]},
   {"width": 325, "height": 216,
    "data": {"name": "barc"},
    "resolve": {"axis": {"y": "independent"}},
    "encoding": {
     "x": {"field": "group", "type": "nominal", "sort": null, "scale": {"paddingInner": 0.17, "paddingOuter": 0.1}, "axis": {"title": "(c)", "labelAngle": 0, "ticks": false, "labelPadding": 7, "labelFontSize": 13, "titlePadding": 10, "titleFontSize": 12}}
    },
    "layer": [
     {"mark": {"type": "bar", "fill": "white", "stroke": "black", "strokeWidth": 1.2}, "encoding": {"y": {"field": "mean", "type": "quantitative", "scale": {"domain": [0, 30], "nice": false}, "axis": {"orient": "left", "values": [0, 10, 20, 30], "labelFontSize": 12, "title": "Current shift (pA)", "titleFontSize": 13, "titlePadding": 8}}}},
     {"mark": {"type": "rule", "color": "#666666", "strokeWidth": 1.5}, "encoding": {"y": {"field": "mean", "type": "quantitative", "axis": {"orient": "left", "values": [0, 5, 10, 15, 20, 25, 30], "labels": false, "title": null}}, "y2": {"field": "upper"}}},
     {"mark": {"type": "tick", "color": "#666666", "thickness": 1.5, "size": 33}, "encoding": {"y": {"field": "upper", "type": "quantitative", "axis": null}}},
     {"mark": {"type": "text", "fontSize": 13, "baseline": "alphabetic", "dy": 2, "color": "black"}, "encoding": {"y": {"field": "upper", "type": "quantitative", "axis": null}, "text": {"field": "sig"}}}
    ]}
  ]
 }
]
}
